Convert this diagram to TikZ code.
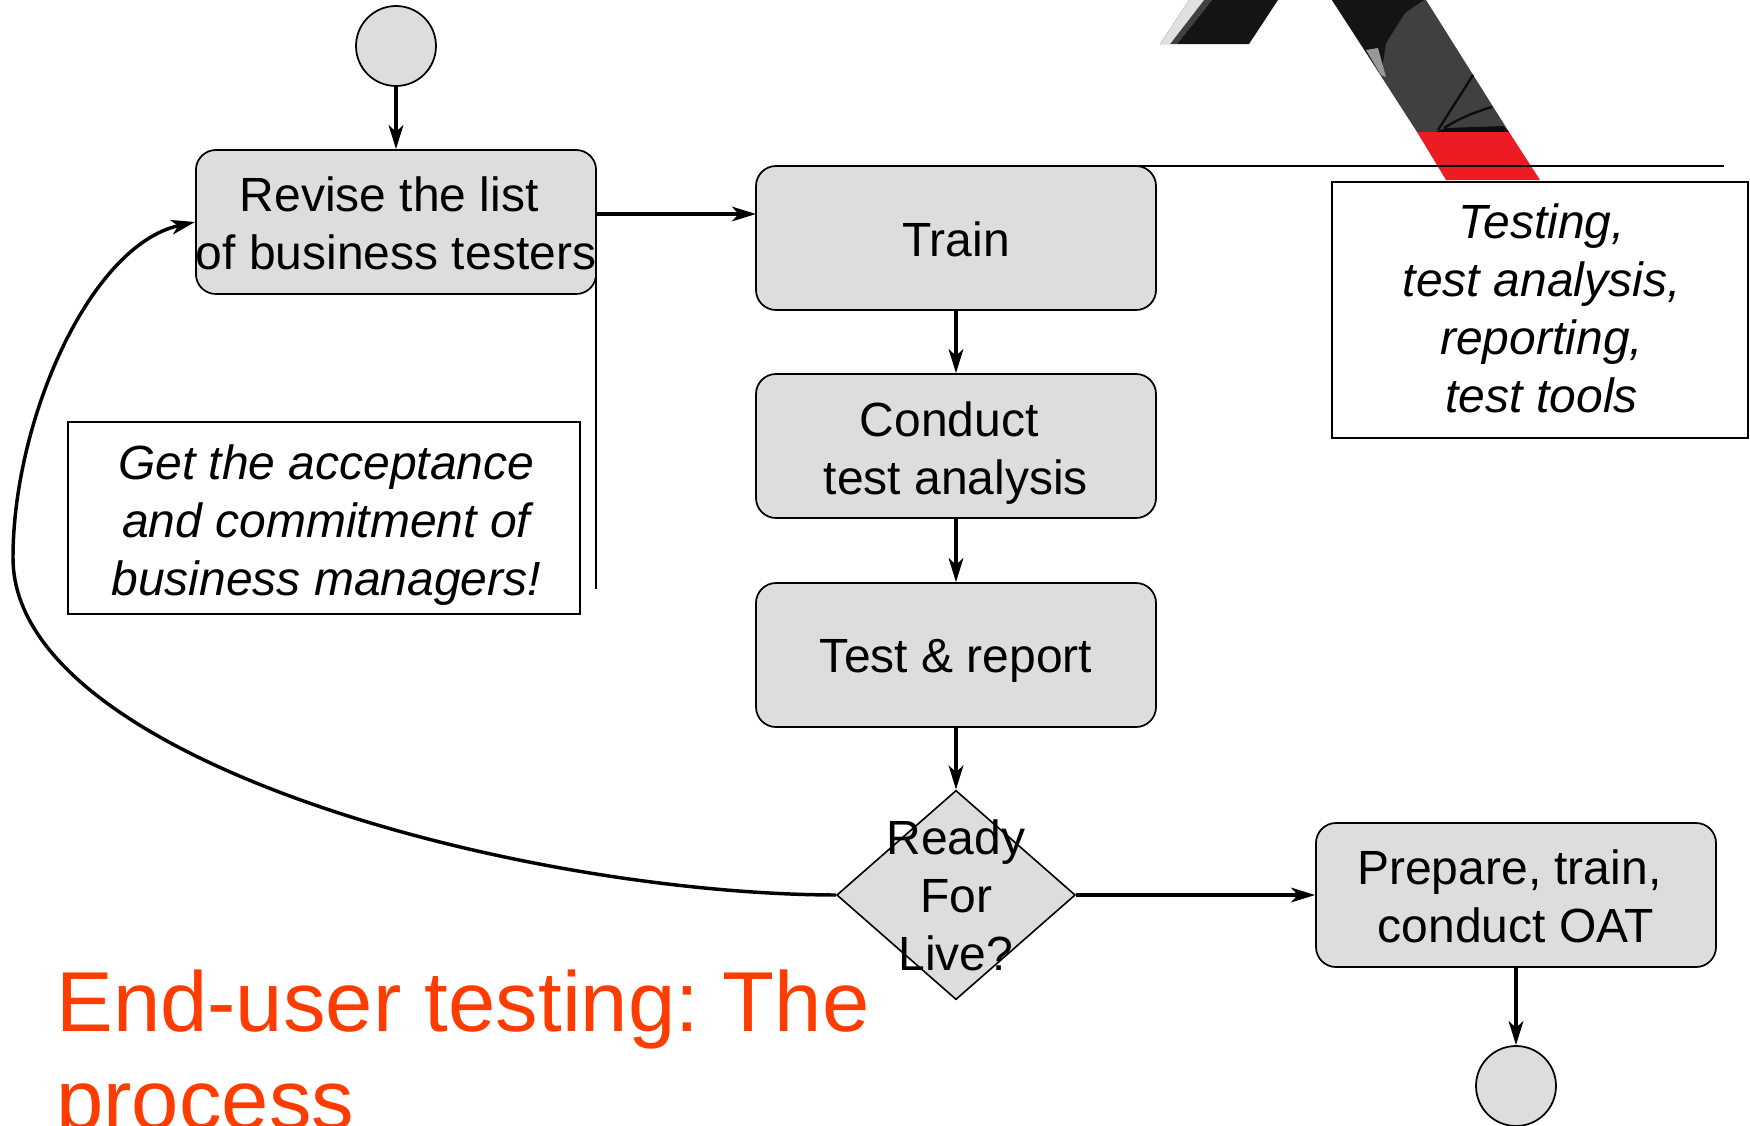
\documentclass[tikz,border=0pt]{standalone}
\usepackage{fontspec}
\setmainfont{Liberation Sans}
\frenchspacing
\usetikzlibrary{arrows.meta,shapes.geometric}
\definecolor{boxfill}{HTML}{DDDDDD}
\definecolor{titlecol}{HTML}{FF3C00}
\definecolor{redband}{HTML}{ED1C24}
\newcommand{\tstrut}[1][34]{\rule[-5pt]{0pt}{\dimexpr#1pt+5pt\relax}}
\newcommand{\ustrut}{\rule[-7.5pt]{0pt}{8.5pt}}
\newcommand{\trail}{\kern.278em}
\tikzset{
  activity/.style={draw=black,fill=boxfill,line width=1.3pt,rounded corners=15pt,minimum width=300pt,minimum height=108pt,inner sep=0pt,align=center,font=\fontsize{36}{43.5}\selectfont},
  terminal/.style={draw=black,fill=boxfill,line width=1.3pt,circle,minimum size=60pt,inner sep=0pt},
  decision/.style={draw=black,fill=boxfill,line width=1.2pt,diamond,minimum width=179pt,minimum height=157pt,inner sep=0pt},
  decisiontext/.style={inner sep=0pt,align=center,font=\fontsize{36}{43.5}\selectfont},
  note/.style={draw=black,fill=white,line width=1.3pt,inner sep=0pt,align=center,font=\fontsize{36}{43.5}\selectfont\itshape},
  flow/.style={draw=black,line width=2.6pt,-{Stealth[length=18pt,width=11pt,inset=5pt]}},
  rule/.style={draw=black,line width=1.3pt},
}
\begin{document}
\begin{tikzpicture}[x=0.75pt,y=-0.75pt]
\useasboundingbox (0,0) rectangle (1750,1125);
\clip (0,0) rectangle (1750,1125);
% photographic logo fragments
\fill[black!75] (1160,44) -- (1189,0) -- (1212,0) -- (1177,44) -- cycle;
\fill[black!12] (1160,44) -- (1189,0) -- (1204,0) -- (1170,44) -- cycle;
\fill[black!92] (1177,44) -- (1212,0) -- (1278,0) -- (1249,44) -- cycle;
\fill[black!75] (1332,0) -- (1426,0) -- (1509,132) -- (1417,132) -- cycle;
\fill[black!92] (1332,0) -- (1424,0) -- (1405,13) -- (1386,43) -- (1381,75) -- cycle;
\fill[black!40] (1366,50) -- (1378,48) -- (1386,77) -- (1381,75) -- cycle;
\draw[black!95,line width=1.8pt] (1438,130) -- (1473,75);
\draw[black!95,line width=1.8pt] (1444,128) .. controls (1460,118) and (1475,112) .. (1492,107);
\fill[black!95] (1436,132) -- (1446,128) -- (1503,126) -- (1509,132) -- cycle;
\fill[redband] (1417,132) -- (1509,132) -- (1540,180) -- (1446,180) -- cycle;
% nodes
\node[terminal] (start) at (396,46) {};
\node[activity] (revise) at (396,222) {\tstrut[32]Revise the list\trail\\of business testers\tstrut};
\node[activity] (train) at (956,238) {\tstrut[32]Train};
\node[activity] (analysis) at (956,446) {\tstrut[36]Conduct\trail\\test analysis\tstrut};
\node[activity] (report) at (956,655) {\tstrut Test \& report};
\node[decision] (ready) at (956,895) {};
\node[decisiontext] (readytext) at (956,895) {\tstrut[31]Ready\\For\\Live?\tstrut};
\node[activity] (oat) at (1516,895) {\tstrut[32]Prepare, train,\trail\\conduct OAT\tstrut};
\node[terminal] (end) at (1516,1086) {};
\node[note,minimum width=383.5pt,minimum height=143.5pt] (accept) at (324,518) {\kern3.4pt\tstrut[36]Get the acceptance\\\kern3.4pt and commitment of\\\kern3.4pt business managers!\tstrut};
\node[note,minimum width=312pt,minimum height=192pt] (tools) at (1540,310) {\kern2.5pt\tstrut[30]Testing,\\\kern2.5pt test analysis,\\\kern2.5pt reporting,\\\kern2.5pt test tools\ustrut};
\node[anchor=north west,inner sep=0pt,align=left,text=titlecol,font=\fontsize{63.8}{73}\selectfont] (title) at (56,970) {End-user testing: The\\process};
% free ends
\coordinate (trainport) at (756,214);
\coordinate (rulestart) at (1138,166);
\coordinate (ruleend) at (1724,166);
\coordinate (stemstart) at (596,272);
\coordinate (stemend) at (596,589);
\coordinate (loopmid) at (13,558);
% connectors
\draw[rule] (rulestart) -- (ruleend);
\draw[rule] (stemstart) -- (stemend);
\draw[flow] (start) -- (revise);
\draw[flow] (trainport -| revise.east) -- (trainport);
\draw[flow] (train) -- (analysis);
\draw[flow] (analysis) -- (report);
\draw[flow] (report) -- (ready);
\draw[flow] (ready) -- (oat);
\draw[flow] (oat) -- (end);
\draw[flow] (ready.west) .. controls (520,894) and (13,760) .. (loopmid) .. controls (13,420) and (90,245) .. (revise.west);
\end{tikzpicture}
\end{document}
